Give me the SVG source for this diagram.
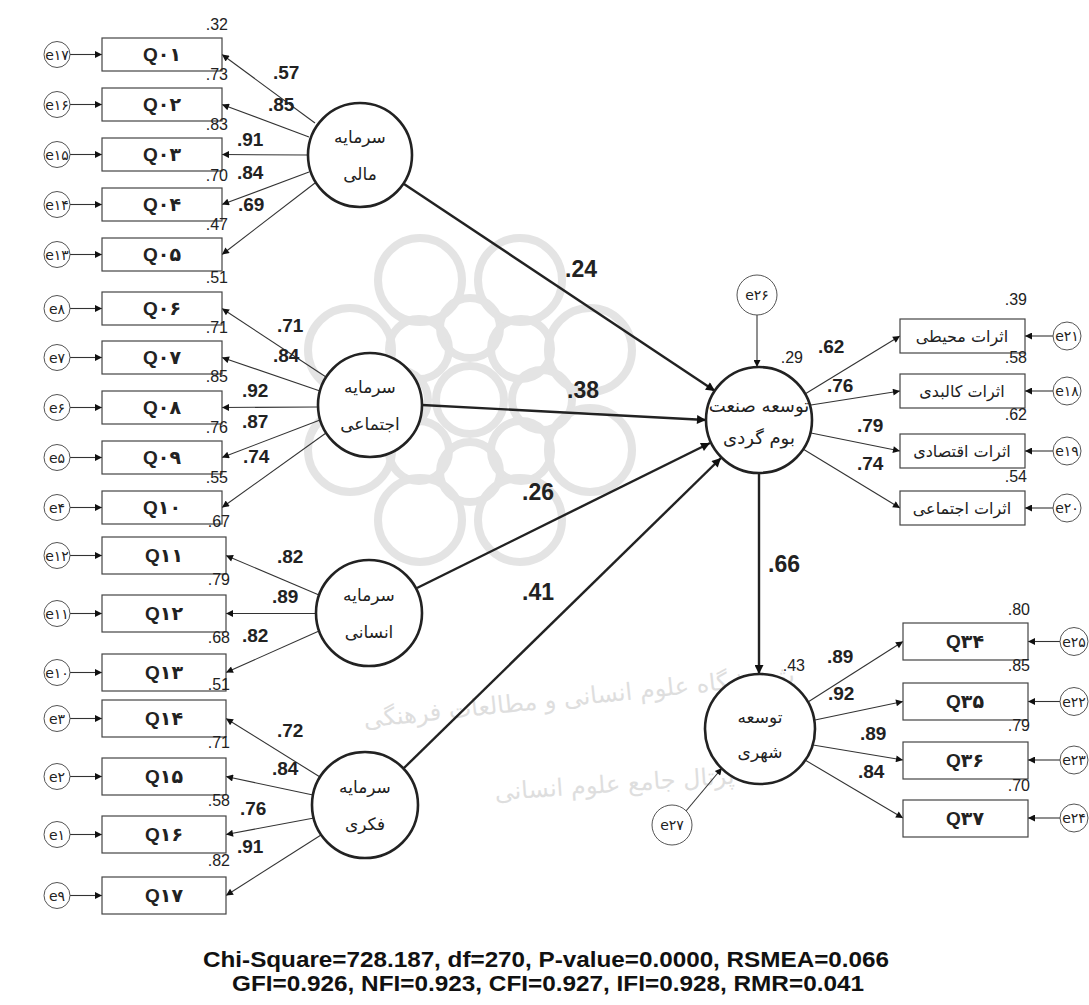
<svg xmlns="http://www.w3.org/2000/svg" width="1089" height="1005" viewBox="0 0 1089 1005">
<style>
.box{fill:#fff;stroke:#444;stroke-width:1.2}
.err{fill:#fff;stroke:#555;stroke-width:1}
.lat{fill:#fff;stroke:#222;stroke-width:2.6}
.m{stroke:#333;stroke-width:1.1;fill:none;marker-end:url(#ah)}
.s{stroke:#222;stroke-width:2.4;fill:none;marker-end:url(#ahb)}
.q{font-family:"Liberation Sans","DejaVu Sans",sans-serif;font-weight:bold;font-size:19px;fill:#222;text-anchor:middle}
.et{font-family:"DejaVu Sans",sans-serif;font-size:14px;fill:#222;text-anchor:middle}
.fa{font-family:"DejaVu Sans",sans-serif;font-size:17px;fill:#222;text-anchor:middle}
.fm{font-family:"DejaVu Sans",sans-serif;font-size:18px;fill:#222;text-anchor:middle}
.fb{font-family:"DejaVu Sans",sans-serif;font-size:16px;fill:#222;text-anchor:middle}
.pl{font-family:"Liberation Sans",sans-serif;font-weight:bold;font-size:19px;fill:#222}
.r2{font-family:"Liberation Sans",sans-serif;font-size:16px;fill:#222;text-anchor:end}
.big{font-family:"Liberation Sans",sans-serif;font-weight:bold;font-size:23px;fill:#222}
.fit{font-family:"Liberation Sans",sans-serif;font-weight:bold;font-size:22px;fill:#111;text-anchor:middle}
.wm{fill:none;stroke:#e4e4e4;stroke-width:8}
.wmt{font-family:"DejaVu Sans",sans-serif;font-size:24px;fill:#dedede;text-anchor:middle}
</style>
<defs>
<marker id="ah" viewBox="0 0 10 10" refX="10" refY="5" markerWidth="10" markerHeight="7" orient="auto" markerUnits="userSpaceOnUse"><path d="M0,0 L10,5 L0,10 z" fill="#111"/></marker>
<marker id="ahb" viewBox="0 0 10 10" refX="10" refY="5" markerWidth="13" markerHeight="9" orient="auto" markerUnits="userSpaceOnUse"><path d="M0,0 L10,5 L0,10 z" fill="#111"/></marker>
</defs>
<rect width="1089" height="1005" fill="#fff"/>

<g id="watermark">
<circle class="wm" cx="470" cy="400" r="34"/>
<g transform="translate(470,400)">
<circle class="wm" cx="72" cy="0" r="30"/><circle class="wm" cx="51" cy="51" r="30"/><circle class="wm" cx="0" cy="72" r="30"/><circle class="wm" cx="-51" cy="51" r="30"/>
<circle class="wm" cx="-72" cy="0" r="30"/><circle class="wm" cx="-51" cy="-51" r="30"/><circle class="wm" cx="0" cy="-72" r="30"/><circle class="wm" cx="51" cy="-51" r="30"/>
<circle class="wm" cx="120" cy="50" r="42"/><circle class="wm" cx="50" cy="120" r="42"/><circle class="wm" cx="-50" cy="120" r="42"/><circle class="wm" cx="-120" cy="50" r="42"/>
<circle class="wm" cx="-120" cy="-50" r="42"/><circle class="wm" cx="-50" cy="-120" r="42"/><circle class="wm" cx="50" cy="-120" r="42"/><circle class="wm" cx="120" cy="-50" r="42"/>
</g>
<text class="wmt" x="580" y="705" transform="rotate(-6 580 705)">پژوهشگاه علوم انسانی و مطالعات فرهنگی</text>
<text class="wmt" x="615" y="792" transform="rotate(-4 615 792)">پرتال جامع علوم انسانی</text>
</g>

<g id="connectors">
<line class="m" x1="70" y1="54.5" x2="102" y2="54.5"/>
<line class="m" x1="70" y1="104.5" x2="102" y2="104.5"/>
<line class="m" x1="70" y1="154.5" x2="102" y2="154.5"/>
<line class="m" x1="70" y1="204.5" x2="102" y2="204.5"/>
<line class="m" x1="70" y1="254.5" x2="102" y2="254.5"/>
<line class="m" x1="70" y1="308.5" x2="102" y2="308.5"/>
<line class="m" x1="70" y1="357.5" x2="102" y2="357.5"/>
<line class="m" x1="70" y1="407.5" x2="102" y2="407.5"/>
<line class="m" x1="70" y1="457.5" x2="102" y2="457.5"/>
<line class="m" x1="70" y1="507.5" x2="102" y2="507.5"/>
<line class="m" x1="70" y1="555.5" x2="102" y2="555.5"/>
<line class="m" x1="70" y1="613.5" x2="102" y2="613.5"/>
<line class="m" x1="70" y1="672.5" x2="102" y2="672.5"/>
<line class="m" x1="70" y1="718.5" x2="102" y2="718.5"/>
<line class="m" x1="70" y1="776.5" x2="102" y2="776.5"/>
<line class="m" x1="70" y1="834.5" x2="102" y2="834.5"/>
<line class="m" x1="70" y1="895.5" x2="102" y2="895.5"/>
<line class="m" x1="315" y1="123" x2="222" y2="54.5"/>
<line class="m" x1="309" y1="137" x2="222" y2="104.5"/>
<line class="m" x1="308" y1="155" x2="222" y2="154.5"/>
<line class="m" x1="309" y1="172" x2="222" y2="204.5"/>
<line class="m" x1="315" y1="183" x2="222" y2="254.5"/>
<line class="m" x1="326" y1="377" x2="222" y2="308.5"/>
<line class="m" x1="320" y1="391" x2="222" y2="357.5"/>
<line class="m" x1="318" y1="407" x2="222" y2="407.5"/>
<line class="m" x1="320" y1="420" x2="222" y2="457.5"/>
<line class="m" x1="326" y1="433" x2="222" y2="507.5"/>
<line class="m" x1="319" y1="595" x2="226" y2="555.5"/>
<line class="m" x1="316" y1="613.5" x2="226" y2="613.5"/>
<line class="m" x1="319" y1="631" x2="226" y2="672.5"/>
<line class="m" x1="320" y1="777" x2="226" y2="718.5"/>
<line class="m" x1="313" y1="795" x2="226" y2="776.5"/>
<line class="m" x1="314" y1="818" x2="226" y2="834.5"/>
<line class="m" x1="321" y1="835" x2="226" y2="895.5"/>
<line class="s" x1="404" y1="184" x2="715" y2="391"/>
<line class="s" x1="422" y1="405" x2="706" y2="420"/>
<line class="s" x1="417" y1="588" x2="710" y2="443"/>
<line class="s" x1="404" y1="768" x2="721" y2="458"/>
<line class="s" x1="759" y1="473" x2="759" y2="674"/>
<line class="m" x1="757" y1="315" x2="757" y2="367"/>
<line class="m" x1="686" y1="811" x2="722" y2="768"/>
<line class="m" x1="805" y1="394" x2="900" y2="336"/>
<line class="m" x1="811" y1="405" x2="900" y2="391"/>
<line class="m" x1="811" y1="433" x2="900" y2="451"/>
<line class="m" x1="803" y1="449" x2="900" y2="508"/>
<line class="m" x1="1053" y1="336" x2="1025" y2="336"/>
<line class="m" x1="1053" y1="391" x2="1025" y2="391"/>
<line class="m" x1="1053" y1="451" x2="1025" y2="451"/>
<line class="m" x1="1053" y1="508" x2="1025" y2="508"/>
<line class="m" x1="808" y1="702" x2="903" y2="641.5"/>
<line class="m" x1="815" y1="720" x2="903" y2="701.5"/>
<line class="m" x1="813" y1="745" x2="903" y2="760"/>
<line class="m" x1="805" y1="760" x2="903" y2="818"/>
<line class="m" x1="1060" y1="641.5" x2="1028" y2="641.5"/>
<line class="m" x1="1060" y1="701.5" x2="1028" y2="701.5"/>
<line class="m" x1="1060" y1="760" x2="1028" y2="760"/>
<line class="m" x1="1060" y1="818" x2="1028" y2="818"/>
</g>

<g id="left-errors">
<g id="e17"><circle class="err" cx="57" cy="54.5" r="13"/><text class="et" x="57" y="59.5">e۱۷</text></g>
<g id="e16"><circle class="err" cx="57" cy="104.5" r="13"/><text class="et" x="57" y="109.5">e۱۶</text></g>
<g id="e15"><circle class="err" cx="57" cy="154.5" r="13"/><text class="et" x="57" y="159.5">e۱۵</text></g>
<g id="e14"><circle class="err" cx="57" cy="204.5" r="13"/><text class="et" x="57" y="209.5">e۱۴</text></g>
<g id="e13"><circle class="err" cx="57" cy="254.5" r="13"/><text class="et" x="57" y="259.5">e۱۳</text></g>
<g id="e8"><circle class="err" cx="57" cy="308.5" r="13"/><text class="et" x="57" y="313.5">e۸</text></g>
<g id="e7"><circle class="err" cx="57" cy="357.5" r="13"/><text class="et" x="57" y="362.5">e۷</text></g>
<g id="e6"><circle class="err" cx="57" cy="407.5" r="13"/><text class="et" x="57" y="412.5">e۶</text></g>
<g id="e5"><circle class="err" cx="57" cy="457.5" r="13"/><text class="et" x="57" y="462.5">e۵</text></g>
<g id="e4"><circle class="err" cx="57" cy="507.5" r="13"/><text class="et" x="57" y="512.5">e۴</text></g>
<g id="e12"><circle class="err" cx="57" cy="555.5" r="13"/><text class="et" x="57" y="560.5">e۱۲</text></g>
<g id="e11"><circle class="err" cx="57" cy="613.5" r="13"/><text class="et" x="57" y="618.5">e۱۱</text></g>
<g id="e10"><circle class="err" cx="57" cy="672.5" r="13"/><text class="et" x="57" y="677.5">e۱۰</text></g>
<g id="e3"><circle class="err" cx="57" cy="718.5" r="13"/><text class="et" x="57" y="723.5">e۳</text></g>
<g id="e2"><circle class="err" cx="57" cy="776.5" r="13"/><text class="et" x="57" y="781.5">e۲</text></g>
<g id="e1"><circle class="err" cx="57" cy="834.5" r="13"/><text class="et" x="57" y="839.5">e۱</text></g>
<g id="e9"><circle class="err" cx="57" cy="895.5" r="13"/><text class="et" x="57" y="900.5">e۹</text></g>
</g>

<g id="left-indicators">
<g id="Q01"><rect class="box" x="102" y="38" width="120" height="33"/><text class="q" x="162" y="61">Q۰۱</text></g>
<g id="Q02"><rect class="box" x="102" y="88" width="120" height="33"/><text class="q" x="162" y="111">Q۰۲</text></g>
<g id="Q03"><rect class="box" x="102" y="138" width="120" height="33"/><text class="q" x="162" y="161">Q۰۳</text></g>
<g id="Q04"><rect class="box" x="102" y="188" width="120" height="33"/><text class="q" x="162" y="211">Q۰۴</text></g>
<g id="Q05"><rect class="box" x="102" y="238" width="120" height="33"/><text class="q" x="162" y="261">Q۰۵</text></g>
<g id="Q06"><rect class="box" x="102" y="292" width="120" height="33"/><text class="q" x="162" y="315">Q۰۶</text></g>
<g id="Q07"><rect class="box" x="102" y="341" width="120" height="33"/><text class="q" x="162" y="364">Q۰۷</text></g>
<g id="Q08"><rect class="box" x="102" y="391" width="120" height="33"/><text class="q" x="162" y="414">Q۰۸</text></g>
<g id="Q09"><rect class="box" x="102" y="441" width="120" height="33"/><text class="q" x="162" y="464">Q۰۹</text></g>
<g id="Q10"><rect class="box" x="102" y="491" width="120" height="33"/><text class="q" x="162" y="514">Q۱۰</text></g>
<g id="Q11"><rect class="box" x="102" y="537" width="124" height="37"/><text class="q" x="164" y="562">Q۱۱</text></g>
<g id="Q12"><rect class="box" x="102" y="595" width="124" height="37"/><text class="q" x="164" y="620">Q۱۲</text></g>
<g id="Q13"><rect class="box" x="102" y="654" width="124" height="37"/><text class="q" x="164" y="679">Q۱۳</text></g>
<g id="Q14"><rect class="box" x="102" y="700" width="124" height="37"/><text class="q" x="164" y="725">Q۱۴</text></g>
<g id="Q15"><rect class="box" x="102" y="758" width="124" height="37"/><text class="q" x="164" y="783">Q۱۵</text></g>
<g id="Q16"><rect class="box" x="102" y="816" width="124" height="37"/><text class="q" x="164" y="841">Q۱۶</text></g>
<g id="Q17"><rect class="box" x="102" y="877" width="124" height="37"/><text class="q" x="164" y="902">Q۱۷</text></g>
</g>

<g id="r2-left">
<text class="r2" x="228" y="30">.32</text>
<text class="r2" x="228" y="80">.73</text>
<text class="r2" x="228" y="130">.83</text>
<text class="r2" x="228" y="181">.70</text>
<text class="r2" x="228" y="230">.47</text>
<text class="r2" x="228" y="283">.51</text>
<text class="r2" x="228" y="333">.71</text>
<text class="r2" x="228" y="382">.85</text>
<text class="r2" x="228" y="433">.76</text>
<text class="r2" x="228" y="483">.55</text>
<text class="r2" x="230" y="527">.67</text>
<text class="r2" x="230" y="585">.79</text>
<text class="r2" x="230" y="643">.68</text>
<text class="r2" x="230" y="690">.51</text>
<text class="r2" x="230" y="748">.71</text>
<text class="r2" x="230" y="806">.58</text>
<text class="r2" x="230" y="866">.82</text>
</g>

<g id="loadings-left">
<text class="pl" x="273" y="79">.57</text>
<text class="pl" x="268" y="111">.85</text>
<text class="pl" x="237" y="146">.91</text>
<text class="pl" x="237" y="179">.84</text>
<text class="pl" x="238" y="211">.69</text>
<text class="pl" x="277" y="332">.71</text>
<text class="pl" x="273" y="362">.84</text>
<text class="pl" x="242" y="397">.92</text>
<text class="pl" x="242" y="428">.87</text>
<text class="pl" x="243" y="463">.74</text>
<text class="pl" x="277" y="563">.82</text>
<text class="pl" x="272" y="603">.89</text>
<text class="pl" x="242" y="642">.82</text>
<text class="pl" x="277" y="737">.72</text>
<text class="pl" x="272" y="775">.84</text>
<text class="pl" x="240" y="815">.76</text>
<text class="pl" x="237" y="853">.91</text>
</g>

<g id="structural-labels">
<text class="big" x="565" y="277">.24</text>
<text class="big" x="567" y="398">.38</text>
<text class="big" x="522" y="500">.26</text>
<text class="big" x="522" y="600">.41</text>
<text class="big" x="768" y="572">.66</text>
</g>

<g id="latent-mali"><circle class="lat" cx="360" cy="155" r="52"/><text class="fa" x="360" y="143">سرمایه</text><text class="fa" x="360" y="180">مالی</text></g>
<g id="latent-ejtemai"><circle class="lat" cx="370" cy="405" r="52"/><text class="fa" x="370" y="393">سرمایه</text><text class="fa" x="370" y="430">اجتماعی</text></g>
<g id="latent-ensani"><circle class="lat" cx="369" cy="613" r="53"/><text class="fa" x="369" y="601">سرمایه</text><text class="fa" x="369" y="638">انسانی</text></g>
<g id="latent-fekri"><circle class="lat" cx="365" cy="805" r="53"/><text class="fa" x="365" y="793">سرمایه</text><text class="fa" x="365" y="830">فکری</text></g>

<g id="latent-ecotourism"><circle class="lat" cx="759" cy="420" r="53"/><text class="fm" x="759" y="412">توسعه صنعت</text><text class="fm" x="759" y="444">بوم گردی</text></g>
<g id="latent-urban"><circle class="lat" cx="760" cy="729" r="55"/><text class="fa" x="760" y="723">توسعه</text><text class="fa" x="760" y="758">شهری</text></g>

<g id="e26"><circle class="err" cx="757" cy="295" r="20"/><text class="et" x="757" y="300">e۲۶</text></g>
<g id="e27"><circle class="err" cx="672" cy="825" r="20"/><text class="et" x="672" y="830">e۲۷</text></g>
<text class="r2" x="803" y="363">.29</text>
<text class="r2" x="805" y="671">.43</text>

<g id="right-indicators-top">
<g id="ind-mohiti"><rect class="box" x="900" y="319" width="125" height="34"/><text class="fb" x="962" y="342">اثرات محیطی</text></g>
<g id="ind-kalbadi"><rect class="box" x="900" y="374" width="125" height="34"/><text class="fb" x="962" y="397">اثرات کالبدی</text></g>
<g id="ind-eghtesadi"><rect class="box" x="900" y="434" width="125" height="34"/><text class="fb" x="962" y="457">اثرات اقتصادی</text></g>
<g id="ind-ejtemai"><rect class="box" x="900" y="491" width="125" height="34"/><text class="fb" x="962" y="514">اثرات اجتماعی</text></g>
</g>
<g id="right-errors-top">
<g id="e21"><circle class="err" cx="1067" cy="336" r="14"/><text class="et" x="1067" y="341">e۲۱</text></g>
<g id="e18"><circle class="err" cx="1067" cy="391" r="14"/><text class="et" x="1067" y="396">e۱۸</text></g>
<g id="e19"><circle class="err" cx="1067" cy="451" r="14"/><text class="et" x="1067" y="456">e۱۹</text></g>
<g id="e20"><circle class="err" cx="1067" cy="508" r="14"/><text class="et" x="1067" y="513">e۲۰</text></g>
</g>
<text class="r2" x="1027" y="305">.39</text>
<text class="r2" x="1027" y="363">.58</text>
<text class="r2" x="1027" y="420">.62</text>
<text class="r2" x="1027" y="482">.54</text>
<text class="pl" x="818" y="353">.62</text>
<text class="pl" x="827" y="392">.76</text>
<text class="pl" x="857" y="432">.79</text>
<text class="pl" x="857" y="470">.74</text>

<g id="right-indicators-bottom">
<g id="Q34"><rect class="box" x="903" y="623" width="125" height="37"/><text class="q" x="965" y="648">Q۳۴</text></g>
<g id="Q35"><rect class="box" x="903" y="683" width="125" height="37"/><text class="q" x="965" y="708">Q۳۵</text></g>
<g id="Q36"><rect class="box" x="903" y="742" width="125" height="37"/><text class="q" x="965" y="767">Q۳۶</text></g>
<g id="Q37"><rect class="box" x="903" y="800" width="125" height="37"/><text class="q" x="965" y="825">Q۳۷</text></g>
</g>
<g id="right-errors-bottom">
<g id="e25"><circle class="err" cx="1074" cy="641.5" r="14"/><text class="et" x="1074" y="646.5">e۲۵</text></g>
<g id="e22"><circle class="err" cx="1074" cy="701.5" r="14"/><text class="et" x="1074" y="706.5">e۲۲</text></g>
<g id="e23"><circle class="err" cx="1074" cy="760" r="14"/><text class="et" x="1074" y="765">e۲۳</text></g>
<g id="e24"><circle class="err" cx="1074" cy="818" r="14"/><text class="et" x="1074" y="823">e۲۴</text></g>
</g>
<text class="r2" x="1030" y="615">.80</text>
<text class="r2" x="1030" y="671">.85</text>
<text class="r2" x="1030" y="731">.79</text>
<text class="r2" x="1030" y="791">.70</text>
<text class="pl" x="827" y="663">.89</text>
<text class="pl" x="828" y="700">.92</text>
<text class="pl" x="860" y="740">.89</text>
<text class="pl" x="858" y="778">.84</text>

<g id="fit">
<text class="fit" x="546" y="967" textLength="686" lengthAdjust="spacingAndGlyphs">Chi-Square=728.187, df=270, P-value=0.0000, RSMEA=0.066</text>
<text class="fit" x="548" y="991" textLength="632" lengthAdjust="spacingAndGlyphs">GFI=0.926, NFI=0.923, CFI=0.927, IFI=0.928, RMR=0.041</text>
</g>
</svg>
